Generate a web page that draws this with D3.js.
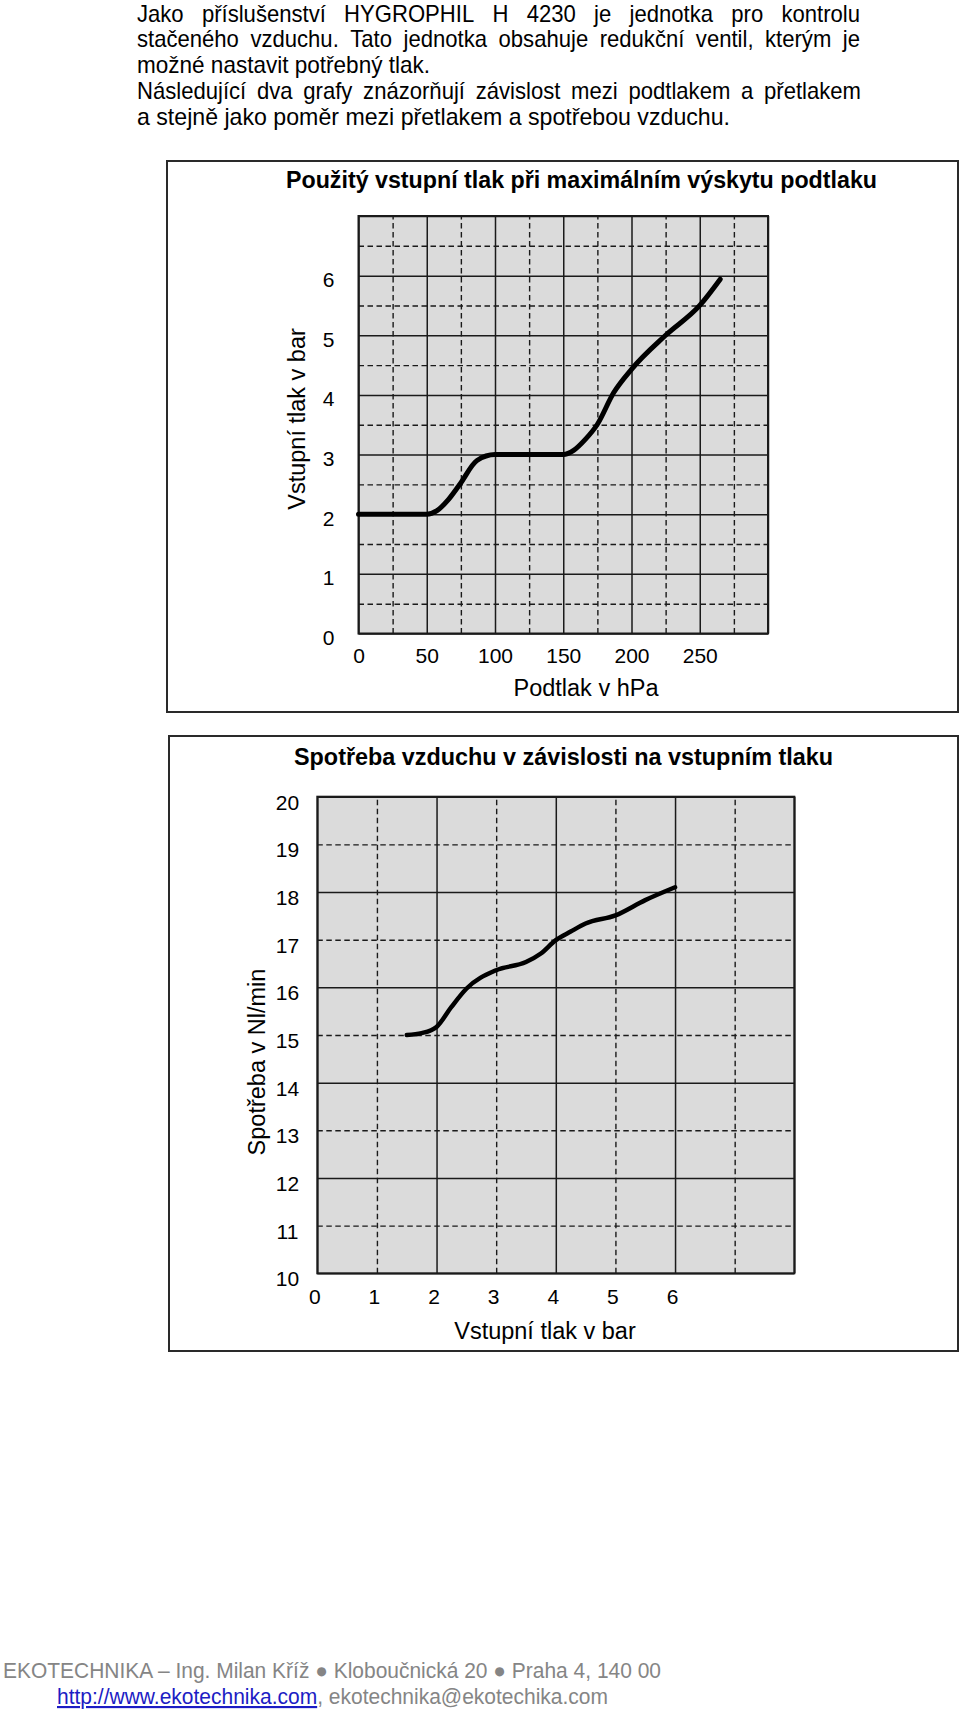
<!DOCTYPE html>
<html>
<head>
<meta charset="utf-8">
<script src="https://cdn.jsdelivr.net/npm/d3@7"></script>
<style>
  body { margin: 0; background: #fff; }
  svg { display: block; font-family: "Liberation Sans", Arial, sans-serif; }
</style>
</head>
<body>
<div id="root"></div>
<script>
// --- text ---
const introLines = [
  'Jako příslušenství HYGROPHIL H 4230 je jednotka pro kontrolu',
  'stačeného vzduchu. Tato jednotka obsahuje redukční ventil, kterým je',
  'možné nastavit potřebný tlak.',
  'Následující dva grafy znázorňují závislost mezi podtlakem a přetlakem',
  'a stejně jako poměr mezi přetlakem a spotřebou vzduchu.'
];
const footerLine = 'EKOTECHNIKA – Ing. Milan Kříž ● Kloboučnická 20 ● Praha 4, 140 00';
const footerUrl = 'http://www.ekotechnika.com';
const footerMail = 'ekotechnika@ekotechika.com';

// --- chart 1: inlet pressure vs vacuum ---
const vacuumHpa = [0, 50, 57.5, 66, 74.5, 86.8, 100, 150, 157.6, 166, 174.8, 187, 200, 225, 250, 265];
const inletBar  = [2, 2, 2.06, 2.25, 2.51, 2.9, 3.0, 3.0, 3.07, 3.25, 3.5, 4.04, 4.43, 5.0, 5.5, 5.94];
const vacuumTicks = [0, 50, 100, 150, 200, 250];
const inletTicks = [0, 1, 2, 3, 4, 5, 6];

// --- chart 2: air consumption vs inlet pressure ---
const pressureBar = [1.5, 1.75, 2.0, 2.25, 2.5, 3.0, 3.5, 3.75, 4.0, 4.25, 4.5, 5.0, 5.5, 6.0];
const airNlMin    = [15.0, 15.04, 15.17, 15.59, 15.97, 16.36, 16.53, 16.71, 16.99, 17.17, 17.34, 17.51, 17.83, 18.1];
const pressureTicks = [0, 1, 2, 3, 4, 5, 6];
const airTicks = [10, 11, 12, 13, 14, 15, 16, 17, 18, 19, 20];

const svg = d3.select('#root')
  .append('svg')
    .attr('width', 960)
    .attr('height', 1710);

svg.append('rect').attr('width', 960).attr('height', 1710).attr('fill', '#fff');

function fit(sel, w) {
  return sel.attr('textLength', w).attr('lengthAdjust', 'spacingAndGlyphs');
}
// narrow the glyphs a bit, the source is set in a condensed looking face
function squeeze(sel, k) {
  return fit(sel, sel.node().getComputedTextLength() * k);
}

// intro paragraph, justified lines get spread word by word
const textLeft = 137;
const lineEnds = [860, 860, null, 861, null];
const lineWidths = [null, null, 293, null, 593];
const squeezeK = 0.92;
const para = svg.append('g').attr('font-size', 24).attr('fill', '#000');
introLines.forEach((line, i) => {
  const y = 21.5 + i * 25.9;
  if (lineEnds[i]) {
    const words = line.split(' ');
    const nodes = words.map(w => para.append('text').attr('y', y).text(w));
    const widths = nodes.map(n => n.node().getComputedTextLength() * squeezeK);
    nodes.forEach((n, j) => fit(n, widths[j]));
    const gap = (lineEnds[i] - textLeft - d3.sum(widths)) / (words.length - 1);
    let x = textLeft;
    nodes.forEach((n, j) => { n.attr('x', x); x += widths[j] + gap; });
  } else {
    fit(para.append('text').attr('x', textLeft).attr('y', y).text(line), lineWidths[i]);
  }
});

function drawChart(o) {
  const g = svg.append('g');
  const [bx0, by0, bx1, by1] = o.box;
  const [left, top, right, bottom] = o.plot;

  g.append('rect')
    .attr('x', bx0).attr('y', by0)
    .attr('width', bx1 - bx0).attr('height', by1 - by0)
    .attr('fill', 'none').attr('stroke', '#2a2a2a').attr('stroke-width', 2);

  fit(g.append('text')
    .attr('x', o.titleX).attr('y', o.titleY)
    .attr('text-anchor', 'middle')
    .attr('font-size', 23).attr('font-weight', 'bold')
    .text(o.title), o.titleW);

  const x = d3.scaleLinear().domain(o.xDomain).range([left, right]);
  const y = d3.scaleLinear().domain(o.yDomain).range([bottom, top]);

  g.append('rect')
    .attr('x', left).attr('y', top)
    .attr('width', right - left).attr('height', bottom - top)
    .attr('fill', '#dbdbdb');

  const xSolid = d3.range(o.xDomain[0], o.xDomain[1] + 1e-9, o.xStep);
  const xDash = d3.range(o.xDomain[0] + o.xStep / 2, o.xDomain[1], o.xStep);
  const ySolid = d3.range(o.yDomain[0], o.yDomain[1] + 1e-9, o.yStep);
  const yDash = d3.range(o.yDomain[0] + o.yStep / 2, o.yDomain[1], o.yStep);

  const gridStyle = (sel, dashed) => {
    sel.select('.domain').remove();
    sel.selectAll('line')
      .attr('stroke', '#1a1a1a')
      .attr('stroke-width', dashed ? 1.4 : 1.5)
      .attr('stroke-dasharray', dashed ? '5.5,3.5' : null);
  };

  [[xDash, true], [xSolid, false]].forEach(([vals, dashed]) => {
    g.append('g')
      .attr('transform', `translate(0,${bottom})`)
      .call(d3.axisBottom(x).tickValues(vals).tickSize(-(bottom - top)).tickFormat(''))
      .call(sel => gridStyle(sel, dashed));
  });
  [[yDash, true], [ySolid, false]].forEach(([vals, dashed]) => {
    g.append('g')
      .attr('transform', `translate(${left},0)`)
      .call(d3.axisLeft(y).tickValues(vals).tickSize(-(right - left)).tickFormat(''))
      .call(sel => gridStyle(sel, dashed));
  });

  g.append('rect')
    .attr('x', left).attr('y', top)
    .attr('width', right - left).attr('height', bottom - top)
    .attr('fill', 'none').attr('stroke', '#1a1a1a').attr('stroke-width', 2);

  // tick labels
  g.append('g')
    .attr('transform', `translate(0,${bottom})`)
    .call(d3.axisBottom(x).tickValues(o.xTicks).tickSize(0).tickFormat(d3.format('d')))
    .call(sel => {
      sel.select('.domain').remove();
      sel.selectAll('text')
        .attr('y', o.xLabelY - bottom).attr('dy', null)
        .attr('x', o.xLabelDx)
        .attr('font-size', 21).attr('font-family', null).attr('fill', '#000');
    });
  g.append('g')
    .attr('transform', `translate(${o.yLabelX},0)`)
    .call(d3.axisLeft(y).tickValues(o.yTicks).tickSize(0).tickFormat(d3.format('d')))
    .call(sel => {
      sel.select('.domain').remove();
      sel.selectAll('text')
        .attr('x', 0).attr('dy', null).attr('y', o.yLabelDy)
        .attr('text-anchor', 'middle')
        .attr('font-size', 21).attr('font-family', null).attr('fill', '#000');
    });

  g.append('text')
    .attr('x', o.xTitleX).attr('y', o.xTitleY)
    .attr('text-anchor', 'middle').attr('font-size', 23.5)
    .text(o.xTitle);
  g.append('text')
    .attr('transform', `translate(${o.yTitleX},${o.yTitleY}) rotate(-90)`)
    .attr('text-anchor', 'middle').attr('font-size', 23.5)
    .text(o.yTitle);

  const line = d3.line()
    .x((d, i) => x(o.xs[i]))
    .y((d, i) => y(o.ys[i]))
    .curve(d3.curveMonotoneX);

  g.append('path')
    .datum(o.xs)
    .attr('d', line)
    .attr('fill', 'none')
    .attr('stroke', '#000')
    .attr('stroke-width', o.lineWidth)
    .attr('stroke-linecap', 'round')
    .attr('stroke-linejoin', 'round');
}

drawChart({
  box: [167, 161, 958, 712],
  plot: [358.5, 216, 768, 633.5],
  xDomain: [0, 300], yDomain: [0, 7],
  xStep: 50, yStep: 1,
  xTicks: vacuumTicks, yTicks: inletTicks,
  title: 'Použitý vstupní tlak při maximálním výskytu podtlaku',
  titleX: 581.5, titleY: 188, titleW: 591,
  xTitle: 'Podtlak v hPa', xTitleX: 586, xTitleY: 696,
  yTitle: 'Vstupní tlak v bar', yTitleX: 305, yTitleY: 419,
  xLabelY: 663, xLabelDx: 0, yLabelX: 328.5, yLabelDy: 11,
  xs: vacuumHpa, ys: inletBar, lineWidth: 5
});

drawChart({
  box: [169, 736, 958, 1351],
  plot: [317.3, 796.7, 794.3, 1273.3],
  xDomain: [0, 8], yDomain: [10, 20],
  xStep: 2, yStep: 2,
  xTicks: pressureTicks, yTicks: airTicks,
  title: 'Spotřeba vzduchu v závislosti na vstupním tlaku',
  titleX: 563.5, titleY: 765, titleW: 539,
  xTitle: 'Vstupní tlak v bar', xTitleX: 545, xTitleY: 1339,
  yTitle: 'Spotřeba v Nl/min', yTitleX: 265, yTitleY: 1062,
  xLabelY: 1304, xLabelDx: -3, yLabelX: 287.5, yLabelDy: 12.5,
  xs: pressureBar, ys: airNlMin, lineWidth: 4.5
});

// footer
const foot = svg.append('g').attr('font-size', 21.5).attr('fill', '#858585');
fit(foot.append('text').attr('x', 3).attr('y', 1678).text(footerLine), 658);
const t2 = foot.append('text').attr('x', 57).attr('y', 1704);
t2.append('tspan')
  .attr('fill', '#1c1cc4')
  .style('text-decoration', 'underline')
  .text(footerUrl);
t2.append('tspan').text(', ' + footerMail);
fit(t2, 551);
</script>
</body>
</html>
